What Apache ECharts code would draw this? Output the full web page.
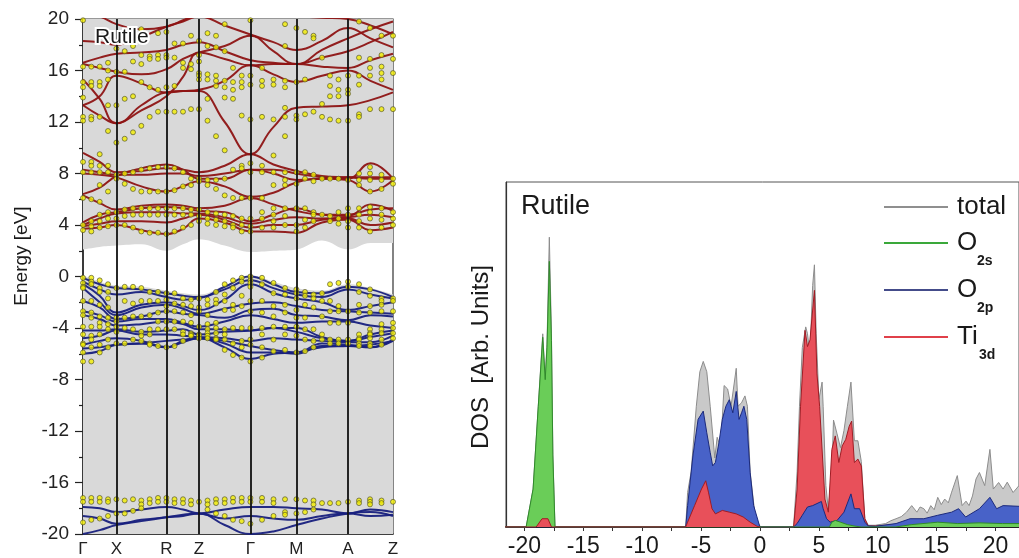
<!DOCTYPE html>
<html>
<head>
<meta charset="utf-8">
<script src="https://cdn.jsdelivr.net/npm/echarts@6/dist/echarts.min.js"></script>
<style>
html,body{margin:0;padding:0;background:#fff;}
#chart{width:1019px;height:558px;}
</style>
</head>
<body>
<div id="chart"></div>
<script>
// ---------- band structure: k-path ----------
const kPath = [0, 33.4, 83.4, 116, 167.4, 213.4, 265, 310];
const kLabels = ['Γ', 'X', 'R', 'Z', 'Γ', 'M', 'A', 'Z'];

// k sample points at which every band energy is listed
const kBand = [0, 16.7, 33.4, 58.4, 83.4, 100, 116, 141.7, 167.4, 190.4, 213.4, 239, 265, 287.5, 310];

// conduction bands (eV)
const condBands = [
  [3.7, 3.8, 4.0, 3.6, 3.3, 3.7, 4.5, 4.2, 3.5, 3.5, 3.4, 4.2, 4.4, 3.6, 3.8],
  [3.9, 4.1, 4.3, 4.3, 4.2, 4.5, 4.8, 4.4, 3.8, 4.0, 4.0, 4.4, 4.5, 4.0, 4.2],
  [4.0, 4.5, 4.9, 5.0, 5.0, 4.9, 4.9, 4.6, 4.1, 4.4, 4.6, 4.5, 4.6, 4.8, 4.6],
  [4.2, 4.8, 5.0, 5.3, 5.4, 5.3, 5.1, 5.0, 4.3, 4.8, 5.3, 4.8, 4.7, 5.6, 5.1],
  [6.3, 5.7, 5.2, 5.5, 5.6, 5.5, 5.3, 5.5, 6.1, 5.6, 5.1, 4.8, 4.8, 5.2, 5.3],
  [6.4, 6.9, 7.8, 8.4, 8.7, 8.3, 7.6, 7.6, 8.3, 8.3, 8.0, 7.7, 7.6, 8.8, 7.6],
  [8.0, 7.9, 7.7, 7.0, 6.6, 7.0, 7.4, 7.0, 6.2, 6.5, 7.3, 7.6, 7.5, 6.6, 7.5],
  [8.3, 8.1, 7.9, 7.9, 8.0, 8.0, 7.8, 8.0, 8.3, 8.0, 7.5, 7.6, 7.7, 7.7, 7.7],
  [9.6, 8.9, 8.1, 8.2, 8.4, 8.3, 8.1, 8.6, 9.5, 8.7, 8.2, 7.8, 7.7, 7.6, 7.6],
  [13.3, 12.5, 11.9, 13.3, 14.3, 14.4, 14.4, 12.0, 9.5, 11.6, 13.1, 13.2, 13.3, 13.7, 14.3],
  [13.3, 14.0, 15.6, 15.0, 14.3, 14.4, 14.5, 15.2, 16.4, 15.7, 15.1, 15.6, 16.0, 15.2, 14.5],
  [15.3, 13.8, 11.9, 12.9, 14.0, 15.5, 17.4, 16.9, 16.4, 16.5, 16.5, 16.3, 16.2, 16.8, 17.3],
  [16.5, 16.2, 15.9, 15.7, 16.1, 16.9, 17.4, 17.9, 18.7, 17.5, 16.5, 17.0, 17.5, 18.2, 19.0],
  [16.6, 17.0, 17.3, 17.4, 17.6, 18.0, 18.2, 17.5, 16.8, 16.6, 16.5, 17.6, 18.5, 19.2, 19.8],
  [18.3, 18.2, 18.0, 18.6, 19.4, 19.8, 20.2, 19.5, 18.8, 18.2, 17.6, 18.3, 19.3, 18.5, 17.8],
  [20.5, 20.2, 19.6, 19.2, 19.4, 19.9, 20.4, 20.6, 20.5, 20.3, 20.2, 20.1, 20.0, 19.5, 18.8]
];

// valence bands (eV)
const valBands = [
  [-0.1, -0.6, -0.9, -1.0, -1.3, -1.5, -1.6, -0.8, 0.0, -0.6, -1.2, -1.3, -0.8, -1.0, -1.6],
  [-0.4, -1.0, -1.4, -1.2, -1.6, -1.8, -1.7, -1.0, -0.3, -0.9, -1.4, -1.6, -1.0, -1.4, -1.7],
  [-0.6, -1.5, -2.8, -2.2, -2.0, -2.3, -2.6, -1.8, -0.6, -1.3, -1.7, -2.0, -2.6, -2.3, -2.0],
  [-0.9, -2.0, -3.0, -2.4, -2.2, -2.5, -2.9, -2.5, -2.1, -2.0, -2.3, -2.6, -2.7, -2.8, -2.9],
  [-1.9, -2.4, -3.3, -3.1, -2.7, -2.9, -3.0, -3.2, -2.6, -2.5, -3.0, -3.1, -3.4, -3.0, -3.1],
  [-2.7, -3.0, -3.5, -3.3, -3.3, -3.6, -3.9, -3.5, -3.0, -3.3, -3.6, -3.5, -3.5, -3.8, -4.0],
  [-3.0, -3.3, -3.8, -3.7, -3.5, -3.7, -4.1, -4.1, -4.2, -4.0, -4.0, -4.7, -5.0, -4.5, -4.2],
  [-4.2, -4.2, -4.1, -4.3, -4.2, -4.1, -4.5, -4.3, -4.2, -4.0, -4.3, -4.8, -5.0, -4.7, -4.4],
  [-4.8, -4.6, -4.2, -4.5, -4.5, -4.6, -4.7, -4.8, -5.0, -4.8, -4.9, -5.0, -5.1, -5.1, -4.6],
  [-5.3, -5.0, -4.8, -5.0, -5.5, -5.0, -4.8, -5.0, -5.4, -5.7, -5.9, -5.2, -5.3, -5.5, -4.9],
  [-5.6, -5.5, -5.3, -5.2, -5.5, -5.1, -4.8, -5.2, -5.9, -5.9, -6.0, -5.4, -5.4, -5.5, -5.0],
  [-6.0, -5.8, -5.3, -5.2, -5.0, -4.9, -4.8, -5.5, -6.4, -6.0, -5.9, -5.5, -5.4, -5.3, -5.0]
];

// O 2s semicore bands (eV)
const coreBands = [
  [-17.9, -18.0, -18.3, -18.1, -17.9, -18.1, -18.4, -18.1, -17.9, -17.9, -18.0, -18.1, -18.4, -18.1, -18.3],
  [-18.6, -18.8, -19.2, -18.9, -18.7, -18.6, -18.4, -18.8, -18.6, -18.8, -18.9, -18.6, -18.4, -18.6, -18.5],
  [-20.0, -19.7, -19.3, -19.0, -18.7, -18.5, -18.4, -19.3, -20.0, -19.8, -19.3, -18.8, -18.4, -18.3, -18.6]
];

// edges of the shaded regions around the gap (eV)
const gapBottom = [0.1, -0.4, -0.7, -0.8, -1.1, -1.3, -1.4, -0.7, 0.1, -0.4, -0.9, -1.1, -0.6, -0.9, -1.4];
const gapTop = [2.1, 2.3, 2.4, 2.5, 2.0, 2.5, 2.9, 2.4, 1.9, 2.0, 2.1, 2.8, 2.1, 2.6, 2.6];

// comparison points: k columns and energies per column
const dotK = [0, 8.3, 16.7, 25, 33.4, 41.7, 50, 58.3, 66.7, 75, 83.4, 91.5, 100, 108, 116,
  124.5, 133, 141.7, 150, 158.7, 167.4, 179, 190.5, 202, 213.4, 222, 230.5, 239, 247, 255.5, 265,
  276, 287, 298.5, 310];

const dotsCond = [
  [19.9, 16.3, 15.1, 14.7, 13.9, 12.4, 12.1, 8.9, 8.1, 6.1, 4.0, 3.6],
  [16.3, 15.1, 14.8, 12.4, 12.2, 8.9, 8.6, 8.1, 6.0, 4.3, 3.9, 3.5],
  [16.3, 15.1, 14.8, 12.4, 9.5, 8.6, 8.1, 7.1, 5.8, 4.8, 4.3, 3.8],
  [16.6, 16.0, 15.3, 13.3, 11.3, 8.6, 8.1, 6.6, 5.0, 4.5, 3.9],
  [17.7, 15.9, 13.3, 10.4, 7.9, 7.6, 5.0, 4.5, 4.0],
  [17.5, 15.9, 13.8, 10.7, 8.0, 7.2, 5.2, 4.7, 4.0],
  [17.9, 16.7, 14.0, 11.2, 8.1, 6.8, 5.3, 4.8, 3.8],
  [19.2, 17.2, 16.5, 15.1, 11.7, 8.3, 6.6, 5.3, 4.8, 3.5],
  [17.1, 16.9, 14.7, 12.4, 8.4, 6.6, 5.3, 4.8, 3.4],
  [18.9, 17.2, 16.9, 14.5, 12.8, 8.5, 6.6, 5.3, 4.8, 3.4],
  [19.0, 17.2, 17.0, 14.7, 12.8, 8.5, 6.6, 5.3, 4.8, 3.3],
  [18.1, 17.0, 14.8, 12.8, 8.4, 6.7, 5.3, 4.8, 3.5],
  [18.1, 16.6, 16.2, 12.8, 8.1, 7.0, 5.3, 4.8, 3.8],
  [18.7, 16.5, 16.1, 13.0, 7.6, 7.1, 5.2, 4.8, 4.0],
  [18.3, 17.2, 16.7, 15.8, 15.6, 15.3, 13.0, 7.6, 7.4, 5.2, 4.7, 4.3],
  [18.9, 17.9, 15.7, 15.3, 13.8, 12.1, 7.5, 7.1, 5.0, 4.5, 4.1],
  [18.7, 17.8, 15.6, 15.2, 14.8, 10.9, 7.5, 6.8, 4.9, 4.4, 4.0],
  [19.6, 17.5, 15.2, 14.7, 13.9, 9.8, 7.6, 6.3, 4.8, 4.3, 3.9],
  [16.2, 15.1, 14.5, 13.8, 8.3, 6.1, 4.7, 4.0, 3.8],
  [15.6, 15.1, 14.7, 12.5, 8.6, 8.4, 6.1, 4.5, 4.0, 3.5],
  [19.9, 15.6, 14.9, 12.2, 8.8, 8.1, 6.1, 4.5, 3.9, 3.5],
  [16.2, 15.2, 14.8, 12.4, 8.6, 8.1, 6.1, 5.0, 4.5, 3.8],
  [15.3, 14.9, 12.2, 9.4, 8.1, 7.1, 5.3, 4.8, 4.3, 3.8],
  [19.6, 17.9, 15.2, 14.7, 13.1, 12.4, 10.9, 8.1, 7.5, 7.1, 5.3, 4.7, 4.0],
  [19.3, 15.1, 12.5, 12.2, 8.1, 7.2, 5.3, 4.0, 3.5],
  [19.0, 15.3, 12.6, 8.1, 7.6, 5.3, 4.4, 3.8],
  [18.7, 18.5, 12.8, 7.9, 7.4, 5.0, 4.8, 4.3],
  [17.0, 13.4, 12.4, 7.6, 4.8],
  [15.6, 14.8, 14.0, 12.2, 7.6, 4.7, 4.3],
  [15.3, 14.5, 14.0, 12.1, 7.6, 5.0, 4.5, 4.1],
  [15.6, 14.5, 14.2, 12.1, 7.5, 5.3, 4.8, 4.3, 3.8],
  [19.8, 17.0, 15.6, 14.9, 12.6, 12.4, 8.0, 7.5, 7.1, 5.3, 4.8, 4.3, 3.8],
  [19.3, 16.9, 16.2, 15.6, 13.0, 8.5, 8.0, 7.5, 6.6, 5.4, 5.0, 4.5, 3.5],
  [18.7, 17.2, 16.3, 15.8, 15.3, 13.0, 7.9, 7.5, 6.8, 5.3, 4.8, 4.4, 3.8],
  [18.7, 16.9, 15.8, 13.0, 7.6, 7.2, 5.0, 4.5, 4.0]
];

const dotsVal = [
  [-0.1, -0.5, -0.8, -0.9, -1.9, -2.7, -3.0, -3.9, -4.5, -5.2, -5.3, -5.9, -6.6],
  [-0.1, -0.4, -0.6, -1.9, -2.8, -3.2, -3.9, -4.6, -4.9, -5.5, -6.6],
  [-0.3, -0.9, -1.2, -2.2, -3.1, -3.6, -3.9, -4.5, -5.3, -5.9],
  [-0.6, -1.2, -1.7, -2.4, -3.2, -3.7, -4.1, -4.9, -5.5],
  [-0.9, -3.2, -3.5, -3.9, -4.3, -5.2],
  [-0.8, -1.9, -3.2, -4.0, -5.2],
  [-0.8, -2.1, -3.1, -4.1, -4.9],
  [-0.9, -1.9, -3.1, -4.3, -4.6, -5.0],
  [-1.2, -1.9, -3.0, -4.1, -4.5, -5.2, -5.3],
  [-1.2, -1.9, -2.8, -3.5, -4.1, -5.4],
  [-1.3, -1.8, -2.3, -2.7, -3.5, -4.1, -5.5],
  [-1.3, -2.1, -2.7, -3.5, -4.1, -5.4],
  [-1.7, -2.2, -2.8, -3.5, -4.3, -4.5, -5.0],
  [-1.8, -2.3, -3.0, -3.6, -4.4, -4.5, -4.6],
  [-1.7, -2.4, -2.7, -3.9, -4.5, -4.6, -4.8],
  [-1.8, -2.2, -3.0, -3.7, -4.1, -4.4, -4.6, -4.8],
  [-1.2, -1.8, -2.1, -3.6, -4.0, -4.4, -4.8, -4.9],
  [-0.6, -1.4, -1.9, -2.6, -4.1, -4.5, -4.9, -5.7],
  [-0.3, -0.9, -2.2, -2.6, -4.0, -5.2, -6.1],
  [-0.1, -0.4, -1.5, -2.3, -4.0, -5.0, -5.5, -6.3],
  [0.0, -0.3, -0.5, -0.8, -1.9, -2.7, -4.0, -4.9, -5.3, -6.6],
  [-0.1, -0.6, -1.9, -2.8, -4.0, -4.5, -5.5, -6.3],
  [-0.5, -1.3, -2.3, -3.1, -3.9, -4.9, -5.8],
  [-0.9, -1.4, -2.2, -2.8, -3.9, -4.5, -5.7],
  [-1.0, -1.3, -1.7, -2.6, -3.2, -3.9, -4.6, -5.9],
  [-1.2, -1.5, -2.2, -3.2, -4.1, -4.9, -5.8],
  [-1.4, -1.7, -2.4, -4.1, -5.0, -5.5],
  [-1.3, -1.9, -3.1, -4.5, -4.9],
  [-0.6, -1.9, -2.7, -3.6, -4.9, -5.2],
  [-0.5, -2.3, -2.7, -3.6, -4.9, -5.2],
  [-0.4, -0.8, -2.7, -3.6, -4.9, -5.2],
  [-0.6, -1.2, -2.2, -2.8, -4.5, -4.8, -4.9, -5.2, -5.4],
  [-1.0, -1.5, -2.3, -2.8, -4.1, -4.4, -4.5, -4.8, -5.2, -5.4],
  [-1.7, -1.9, -2.2, -2.7, -3.7, -4.1, -4.4, -4.9, -5.3],
  [-1.7, -1.9, -2.7, -3.6, -4.0, -4.4, -4.8]
];

const dotsCore = [
  [-17.2, -17.5, -19.1], [-17.2, -17.5, -18.9], [-17.2, -17.5, -18.8], [-17.3, -17.5, -18.6],
  [-17.3, -18.4], [-17.4, -18.4], [-17.3, -18.2], [-17.4, -17.7, -18.0], [-17.3, -17.6],
  [-17.2, -17.5], [-17.2, -17.5], [-17.3, -17.6], [-17.3, -17.6], [-17.4, -17.7], [-17.5],
  [-17.4, -17.7, -18.1], [-17.3, -17.6, -18.4], [-17.3, -17.6, -18.6], [-17.2, -17.5, -18.9],
  [-17.2, -17.5, -19.0], [-17.2, -17.5, -19.2], [-17.2, -17.5, -18.9], [-17.3, -17.6, -18.6],
  [-17.3, -18.3, -18.5], [-17.3, -18.4], [-17.4, -18.3], [-17.4, -17.7, -18.1], [-17.6],
  [-17.6], [-17.6], [-17.5], [-17.4, -17.6], [-17.3, -17.5, -17.7], [-17.4, -17.6], [-17.5]
];

// ---------- density of states (arb. units, 0-100) ----------
const dosTotal = [
  [-22, 0], [-19.85, 0], [-19.7, 0.5], [-19.26, 11], [-18.82, 35], [-18.44, 56], [-18.23, 43],
  [-18.08, 53], [-17.88, 84], [-17.7, 56], [-17.58, 21], [-17.4, 0],
  [-6.3, 0], [-6.14, 10], [-5.84, 16], [-5.4, 35], [-5.1, 45], [-4.81, 48], [-4.51, 45],
  [-4.22, 35], [-3.83, 20], [-3.63, 26], [-3.33, 23], [-3.04, 41], [-2.74, 40], [-2.45, 35],
  [-2.01, 46], [-1.86, 35], [-1.56, 36], [-1.27, 38], [-1.06, 35], [-0.83, 16], [-0.38, 2.4], [0.06, 0],
  [2.86, 0], [3.16, 16], [3.36, 35], [3.6, 52], [3.89, 58], [4.04, 56], [4.25, 50], [4.48, 70],
  [4.63, 76], [4.78, 56], [5.01, 37], [5.28, 42], [5.37, 35], [5.6, 12], [5.81, 5], [6.11, 16],
  [6.25, 31], [6.55, 27], [6.84, 23], [7.14, 28], [7.43, 35], [7.73, 42], [8.02, 25], [8.32, 25],
  [8.61, 19], [8.91, 2.4], [9.2, 0.5],
  [9.79, 0.5], [10.68, 1.0], [11.1, 1.8], [11.56, 2.4], [12.0, 3.0], [12.45, 4.3], [12.89, 6.2],
  [13.33, 4.3], [13.6, 5.8], [13.92, 5.3], [14.2, 4.0], [14.51, 6.2], [14.8, 5.0], [15.1, 8.6],
  [15.4, 6.5], [15.69, 8.1], [16.0, 7.0], [16.28, 10.1], [16.76, 14.9], [17.17, 6.2], [17.5, 7.5],
  [17.76, 6.2], [18.05, 9.0], [18.35, 13.9], [18.64, 15.8], [19.09, 12], [19.53, 22.5],
  [19.82, 11], [20.27, 12.9], [20.65, 11], [21.0, 13], [21.5, 10], [22, 12]
];

const dosO2s = [
  [-22, 0], [-19.85, 0], [-19.7, 0.5], [-19.26, 11], [-18.82, 35], [-18.44, 55], [-18.23, 42.7],
  [-18.08, 52], [-17.88, 77], [-17.7, 54], [-17.58, 20.6], [-17.4, 0],
  [5.9, 0], [6.11, 1.4], [6.4, 1.9], [6.84, 1.4], [7.43, 0.7], [8.0, 0.3], [8.6, 0],
  [11.5, 0], [12.9, 0.7], [14.5, 1.2], [15.1, 1.4], [16.8, 1.0], [18.6, 1.2], [20.6, 1.0], [22, 1.0]
];

const dosO2p = [
  [-22, 0], [-6.3, 0], [-6.14, 6.2], [-5.69, 20.6], [-5.25, 31.2], [-4.81, 33.6], [-4.51, 27.3],
  [-4.22, 21.6], [-4.01, 17.7], [-3.78, 18.7], [-3.48, 24.4], [-3.19, 31.2], [-2.89, 35],
  [-2.6, 36.9], [-2.3, 33.1], [-2.01, 39.3], [-1.77, 31.2], [-1.56, 33.1], [-1.36, 35],
  [-1.12, 31.2], [-0.83, 15.8], [-0.53, 6.2], [0, 0],
  [2.86, 0], [3.16, 1.0], [3.6, 3.4], [4.04, 5.8], [4.48, 6.2], [5.22, 7.4], [5.37, 5.3],
  [5.66, 2.4], [5.96, 1.4], [6.55, 1.9], [7.14, 4.3], [7.73, 9.6], [8.02, 5.3], [8.47, 5.3],
  [8.91, 1.4], [9.2, 0.3], [9.8, 0.2], [11.56, 1.0], [12.75, 2.4], [13.92, 2.4], [15.1, 3.4],
  [16.28, 4.3], [16.87, 5.3], [17.47, 2.9], [18.64, 5.3], [19.53, 8.6], [20.1, 5.3], [20.65, 6.2], [22, 6]
];

const dosTi3d = [
  [-22, 0], [-19.0, 0], [-18.5, 2.4], [-18.0, 2.4], [-17.7, 0],
  [-6.3, 0], [-6.14, 1.4], [-5.55, 6.2], [-4.96, 11], [-4.6, 13.4], [-4.37, 10.1], [-4.07, 5.3],
  [-3.78, 3.8], [-3.19, 4.8], [-2.6, 4.3], [-2.01, 3.8], [-1.42, 2.9], [-0.83, 1.4], [-0.24, 0.2], [0, 0],
  [2.86, 0], [3.16, 11], [3.45, 35], [3.83, 57], [4.04, 52.3], [4.25, 54.2], [4.63, 68.6],
  [4.84, 44.6], [5.07, 35], [5.22, 35], [5.52, 8.1], [5.81, 4.3], [6.11, 22.5], [6.4, 26.4],
  [6.7, 18.7], [6.99, 23.5], [7.29, 25.4], [7.58, 29.2], [7.79, 30.7], [8.02, 18.7], [8.32, 19.7],
  [8.61, 17.7], [8.91, 2.4], [9.2, 0.3], [9.79, 0.3], [12.89, 1.0], [15.1, 1.4], [16.28, 1.9],
  [17.76, 1.9], [18.94, 2.4], [19.53, 2.4], [20.65, 2.9], [22, 3]
];

const dosTicks = [-20, -15, -10, -5, 0, 5, 10, 15, 20];
const dosMinorTicks = [-20, -17.5, -15, -12.5, -10, -7.5, -5, -2.5, 0, 2.5, 5, 7.5, 10, 12.5, 15, 17.5, 20];

// ---------- drawing ----------
const FONT = '"Liberation Sans", Arial, Helvetica, sans-serif';
const RED = '#8e1414';
const BLUE = '#18207e';
const SHADE = '#d9d9d9';

function bandLine(vals, color) {
  return {
    type: 'line', xAxisIndex: 0, yAxisIndex: 0, silent: true,
    data: kBand.map((k, i) => [k, vals[i]]),
    smooth: 0.45, symbol: 'none', z: 3,
    lineStyle: { color: color, width: 2, opacity: 0.95 }
  };
}

function dotData(cols) {
  const out = [];
  cols.forEach((col, i) => col.forEach(e => out.push([dotK[i], e])));
  return out;
}

function dosLayer(pts, fill, edge, z) {
  return {
    type: 'line', xAxisIndex: 1, yAxisIndex: 1, silent: true,
    data: pts, symbol: 'none', z: z,
    lineStyle: { color: edge, width: 1 },
    areaStyle: { color: fill, opacity: 1 }
  };
}

const series = [];

// shaded regions below the valence band top and above the conduction band edge
series.push({
  type: 'line', xAxisIndex: 0, yAxisIndex: 0, silent: true, z: 1,
  data: kBand.map((k, i) => [k, gapBottom[i]]),
  smooth: 0.4, symbol: 'none', lineStyle: { width: 0 },
  areaStyle: { color: SHADE, opacity: 1, origin: 'start' }
});
series.push({
  type: 'line', xAxisIndex: 0, yAxisIndex: 0, silent: true, z: 1,
  data: kBand.map((k, i) => [k, gapTop[i]]),
  smooth: 0.4, symbol: 'none', lineStyle: { width: 0 },
  areaStyle: { color: SHADE, opacity: 1, origin: 'end' }
});

// vertical lines at the high-symmetry points
series.push({
  type: 'line', xAxisIndex: 0, yAxisIndex: 0, silent: true, z: 2, data: [],
  markLine: {
    silent: true, symbol: ['none', 'none'], label: { show: false },
    lineStyle: { color: '#111', width: 1.8, type: 'solid' },
    data: kPath.slice(1, -1).map(k => ({ xAxis: k }))
  }
});

condBands.forEach(b => series.push(bandLine(b, RED)));
valBands.forEach(b => series.push(bandLine(b, BLUE)));
coreBands.forEach(b => series.push(bandLine(b, BLUE)));

series.push({
  type: 'scatter', xAxisIndex: 0, yAxisIndex: 0, silent: true, z: 4,
  data: dotData(dotsCond).concat(dotData(dotsVal), dotData(dotsCore)),
  symbol: 'circle', symbolSize: 5,
  itemStyle: { color: '#f2ee00', borderColor: '#4a4a2a', borderWidth: 0.8 }
});

// DOS layers: total behind, Ti 3d repeated in front below 1.5 eV
series.push(dosLayer(dosTotal, '#c9c9c9', '#8c8c8c', 1));
series.push(dosLayer(dosTi3d, '#e8505a', '#a01c24', 2));
series.push(dosLayer(dosO2p, '#4862c8', '#1c2a7c', 3));
series.push(dosLayer(dosO2s, '#6acd58', '#2f8a2a', 4));
series.push(dosLayer(dosTi3d.filter(p => p[0] < 1.5), '#e8505a', '#a01c24', 5));

// legend of the DOS panel
const legendRows = [
  { y: 207, color: '#8f8f8f', main: 'total', sub: '' },
  { y: 243, color: '#3aa83a', main: 'O', sub: '2s' },
  { y: 290, color: '#444c8a', main: 'O', sub: '2p' },
  { y: 337, color: '#e0404a', main: 'Ti', sub: '3d' }
];
const graphics = [];
legendRows.forEach(r => {
  graphics.push({ type: 'line', silent: true, shape: { x1: 884, y1: r.y, x2: 948, y2: r.y },
    style: { stroke: r.color, lineWidth: 2 } });
  graphics.push({ type: 'text', silent: true, x: 957, y: r.y,
    style: { text: r.main, font: '26px ' + FONT, fill: '#1a1a1a', textVerticalAlign: 'middle' } });
  if (r.sub) {
    const w = r.main === 'O' ? 20 : 22;
    graphics.push({ type: 'text', silent: true, x: 957 + w, y: r.y + 18,
      style: { text: r.sub, font: 'bold 14px ' + FONT, fill: '#1a1a1a', textVerticalAlign: 'middle' } });
  }
});
graphics.push({ type: 'text', silent: true, x: 95, y: 37,
  style: { text: 'Rutile', font: '21px ' + FONT, fill: '#1a1a1a', textVerticalAlign: 'middle',
    stroke: '#ffffff', lineWidth: 4 }, z: 10 });
graphics.push({ type: 'text', silent: true, x: 521, y: 207,
  style: { text: 'Rutile', font: '27px ' + FONT, fill: '#1a1a1a', textVerticalAlign: 'middle' } });
graphics.push({ type: 'text', silent: true, x: 22, y: 256, rotation: Math.PI / 2,
  style: { text: 'Energy [eV]', font: '19px ' + FONT, fill: '#1a1a1a', textAlign: 'center', textVerticalAlign: 'middle' } });
graphics.push({ type: 'text', silent: true, x: 481, y: 357, rotation: Math.PI / 2,
  style: { text: 'DOS  [Arb. Units]', font: '24px ' + FONT, fill: '#1a1a1a', textAlign: 'center', textVerticalAlign: 'middle' } });

const option = {
  animation: false,
  backgroundColor: '#ffffff',
  grid: [
    { left: 83, top: 19, width: 310, height: 518, show: true, borderColor: '#333', borderWidth: 1.2, backgroundColor: 'transparent' },
    { left: 506, top: 182, width: 528, height: 348, show: true, borderColor: '#555', borderWidth: 1, backgroundColor: 'transparent' }
  ],
  xAxis: [
    {
      type: 'value', gridIndex: 0, min: 0, max: 310,
      axisLine: { show: true, onZero: false, lineStyle: { color: '#222', width: 1.5 } },
      axisTick: { show: false }, splitLine: { show: false },
      axisLabel: {
        customValues: kPath, margin: 7, color: '#222', fontSize: 17, fontFamily: FONT,
        formatter: v => kLabels[kPath.indexOf(v)]
      }
    },
    {
      type: 'value', gridIndex: 1, min: -21.56, max: 22,
      axisLine: { show: true, onZero: false, lineStyle: { color: '#222', width: 1.2 } },
      axisTick: { show: true, customValues: dosMinorTicks, length: 4, lineStyle: { color: '#333' } },
      splitLine: { show: false },
      axisLabel: { customValues: dosTicks, margin: 8, color: '#1a1a1a', fontSize: 23, fontFamily: FONT }
    }
  ],
  yAxis: [
    {
      type: 'value', gridIndex: 0, min: -20, max: 20, interval: 4,
      axisLine: { show: true, onZero: false, lineStyle: { color: '#222', width: 1.5 } },
      axisTick: { show: true, length: 8, lineStyle: { color: '#222', width: 1.2 } },
      minorTick: { show: true, splitNumber: 2, length: 4, lineStyle: { color: '#222', width: 1.2 } },
      splitLine: { show: false },
      axisLabel: { margin: 14, color: '#222', fontSize: 19, fontFamily: FONT }
    },
    {
      type: 'value', gridIndex: 1, min: 0, max: 100,
      axisLine: { show: true, onZero: false, lineStyle: { color: '#333', width: 1.2 } },
      axisTick: { show: false }, axisLabel: { show: false }, splitLine: { show: false }
    }
  ],
  series: series,
  graphic: graphics
};

const chart = echarts.init(document.getElementById('chart'), null, { renderer: 'canvas' });
chart.setOption(option);
</script>
</body>
</html>
